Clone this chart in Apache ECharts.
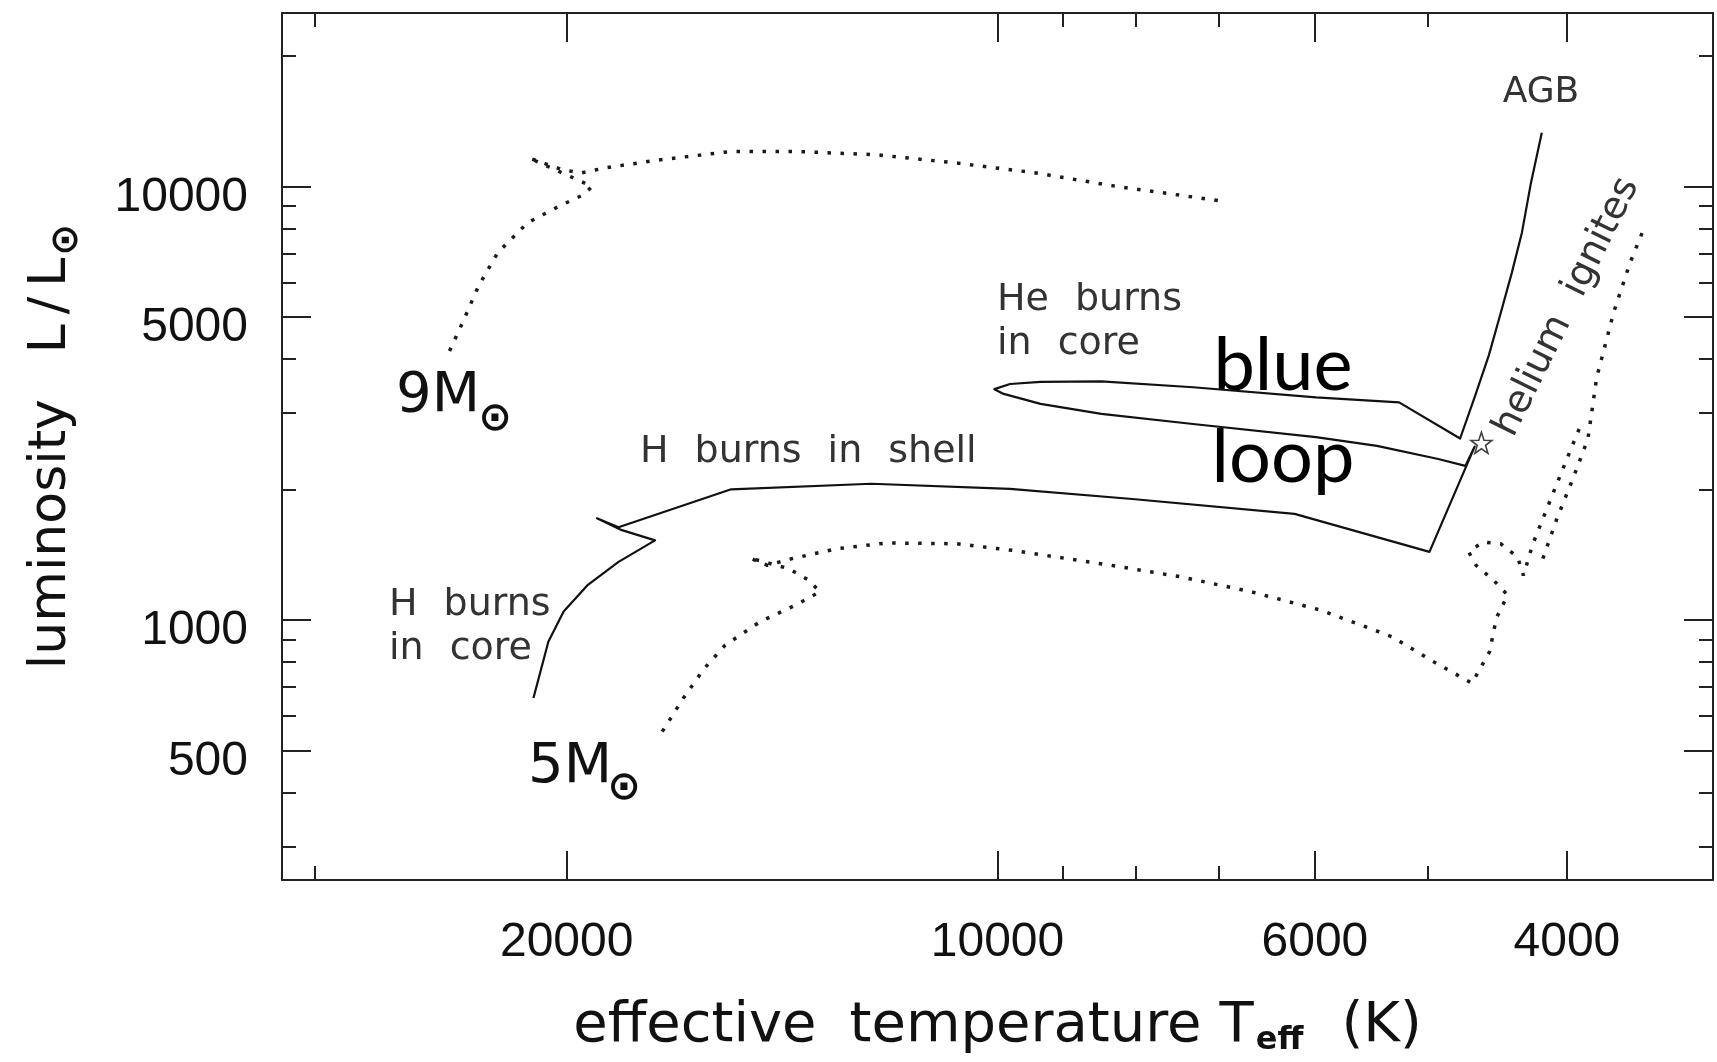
<!DOCTYPE html>
<html><head><meta charset="utf-8">
<script src="https://cdn.jsdelivr.net/npm/echarts@6/dist/echarts.min.js"></script>
<style>html,body{margin:0;padding:0;background:#fff}#c{width:1717px;height:1062px}</style>
</head><body><div id="c"></div>
<script>
// ---------- data (temperature in K, luminosity in L_sun) ----------
// 5 M_sun track (solid): main sequence, hook, Hertzsprung gap, red giant branch, blue loop, AGB
const solidTemp = [21100, 20600, 20100, 19350, 18400, 17350, 18300, 19050, 18400, 15350, 12250, 9800, 8050, 6200, 4990, 4640, 4710, 4920, 5430, 5990, 7300, 8460, 9330, 9900, 10050, 9800, 9330, 8460, 7300, 5990, 5240, 4750, 4640, 4535, 4450, 4370, 4300, 4238, 4165];
const solidLum  = [660, 890, 1045, 1200, 1360, 1525, 1610, 1715, 1635, 2000, 2060, 2005, 1900, 1755, 1435, 2510, 2265, 2350, 2520, 2640, 2830, 2985, 3150, 3320, 3405, 3500, 3540, 3550, 3440, 3260, 3175, 2620, 3265, 4080, 5096, 6333, 7830, 10200, 13300];
// 9 M_sun track (dotted)
const dot9Temp = [24150, 23650, 23050, 22350, 21300, 20250, 19450, 19200, 21250, 20150, 19550, 18800, 17350, 15350, 13850, 12150, 10700, 9400, 8260, 6950];
const dot9Lum  = [4170, 4850, 5890, 7030, 8240, 9000, 9580, 10000, 11630, 10930, 10740, 11030, 11480, 12040, 12040, 11830, 11330, 10740, 10000, 9240];
// 5 M_sun track (dotted): up to the small loop and the left strand
const dot5TempA = [17150, 16580, 16030, 15500, 14650, 13850, 13310, 13540, 14000, 14900, 14480, 13920, 12940, 11960, 10680, 9760, 8330, 7440, 6645, 5940, 5300, 4960, 4660, 4530, 4480, 4400, 4500, 4630, 4685, 4580, 4450, 4330, 4290, 4225, 4118, 4013, 3917];
const dot5LumA  = [552, 659, 772, 874, 990, 1080, 1160, 1233, 1313, 1389, 1336, 1384, 1459, 1504, 1498, 1446, 1336, 1256, 1160, 1052, 914, 801, 714, 844, 1011, 1140, 1233, 1336, 1434, 1512, 1498, 1396, 1265, 1498, 1852, 2289, 2785];
// 5 M_sun track (dotted): right strand up to the top
const dot5TempB = [4158, 4065, 3962, 3867, 3813, 3710, 3615, 3530];
const dot5LumB  = [1384, 1711, 2114, 2615, 3620, 5120, 6640, 8070];
// helium ignition marker
const heliumTemp = [4590];
const heliumLum  = [2560];
// axis ranges and ticks
const tempRange = [3162, 31623];
const lumRange  = [251, 25119];
const tempMajorTicks = [20000, 10000, 6000, 4000];
const tempMinorTicks = [30000, 9000, 8000, 7000, 5000];
const lumMajorTicks  = [10000, 5000, 1000, 500];
const lumMinorTicks  = [20000, 9000, 8000, 7000, 6000, 4000, 3000, 2000, 900, 800, 700, 600, 400, 300];

// ---------- chart ----------
const lg = v => Math.log10(v);
const pts = (T, L) => T.map((t, i) => [lg(t), lg(L[i])]);
const fmt = v => String(Math.round(Math.pow(10, v)));
const INK = '#1a1a1a';
const AX = '#222';
const tickFont = '"Liberation Sans", Arial, sans-serif';
const nameFont = '"DejaVu Sans", sans-serif';

function xAx(pos, ticks, len, showLine, withLabel) {
  const o = {
    type: 'value', position: pos, min: lg(tempRange[0]), max: lg(tempRange[1]), inverse: true,
    axisLine: { show: showLine, lineStyle: { color: AX, width: 2 } },
    axisTick: { show: true, inside: true, length: len, customValues: ticks.map(lg), lineStyle: { color: AX, width: 2 } },
    axisLabel: { show: withLabel, customValues: ticks.map(lg), formatter: fmt, fontSize: 48, fontFamily: tickFont, color: '#111', margin: 39 },
    splitLine: { show: false }
  };
  if (withLabel) {
    o.name = 'effective{g1| }temperature{g2| }T{sub|eff}{g3| }(K)';
    o.nameLocation = 'middle';
    o.nameGap = 115;
    const base = { fontSize: 56, fontFamily: nameFont, color: '#111' };
    o.nameTextStyle = Object.assign({}, base, {
      rich: {
        g1: Object.assign({}, base, { width: 33 }),
        g2: Object.assign({}, base, { width: 18 }),
        g3: Object.assign({}, base, { width: 38 }),
        sub: { fontSize: 32, fontFamily: nameFont, fontWeight: 'bold', color: '#111', padding: [30, 0, 0, 2] }
      }
    });
  }
  return o;
}
function yAx(pos, ticks, len, showLine, withLabel) {
  const o = {
    type: 'value', position: pos, min: lg(lumRange[0]), max: lg(lumRange[1]),
    axisLine: { show: showLine, lineStyle: { color: AX, width: 2 } },
    axisTick: { show: true, inside: true, length: len, customValues: ticks.map(lg), lineStyle: { color: AX, width: 2 } },
    axisLabel: { show: withLabel, customValues: ticks.map(lg), formatter: fmt, fontSize: 48, fontFamily: tickFont, color: '#111', margin: 34, verticalAlign: 'top', lineHeight: 22 },
    splitLine: { show: false }
  };
  if (withLabel) {
    o.name = 'luminosity{g| }L{sl|/}L{sun|⊙}';
    o.nameLocation = 'middle';
    o.nameRotate = 90;
    o.nameGap = 196;
    const base = { fontSize: 52, fontFamily: nameFont, color: '#111' };
    o.nameTextStyle = Object.assign({}, base, {
      rich: {
        g: Object.assign({}, base, { width: 46 }),
        sl: Object.assign({}, base, { padding: [0, 10, 0, 10] }),
        sun: { fontSize: 38, fontFamily: nameFont, fontWeight: 'bold', color: '#111', padding: [32, 0, 0, 2] }
      }
    });
  }
  return o;
}

const starPath = 'path://M0,-10L2.35,-3.24L9.51,-3.09L3.8,1.24L5.88,8.09L0,4.2L-5.88,8.09L-3.8,1.24L-9.51,-3.09L-2.35,-3.24Z';
const annFont = '"DejaVu Sans", sans-serif';
const annStyle = (text, extra) => Object.assign({
  text: text, font: '38px ' + annFont, fill: '#333', align: 'left', verticalAlign: 'middle', lineHeight: 44,
  rich: { g: { font: '38px ' + annFont, fill: '#333', width: 26, lineHeight: 44 } }
}, extra || {});
const dotted = { color: INK, width: 3.5, type: [3.5, 9.5], cap: 'butt' };

const chart = echarts.init(document.getElementById('c'), null, { renderer: 'canvas' });
chart.setOption({
  animation: false,
  backgroundColor: '#ffffff',
  grid: { left: 282, right: 4, top: 13, bottom: 180, containLabel: false },
  xAxis: [
    xAx('bottom', tempMajorTicks, 29, true, true),
    xAx('bottom', tempMinorTicks, 14, false, false),
    xAx('top', tempMajorTicks, 29, true, false),
    xAx('top', tempMinorTicks, 14, false, false)
  ],
  yAxis: [
    yAx('left', lumMajorTicks, 29, true, true),
    yAx('left', lumMinorTicks, 14, false, false),
    yAx('right', lumMajorTicks, 29, true, false),
    yAx('right', lumMinorTicks, 14, false, false)
  ],
  series: [
    { name: '9 Msun (dotted)', type: 'line', data: pts(dot9Temp, dot9Lum), showSymbol: false, symbol: 'none', lineStyle: dotted, z: 3 },
    { name: '5 Msun (dotted)', type: 'line', data: pts(dot5TempA, dot5LumA), showSymbol: false, symbol: 'none', lineStyle: dotted, z: 3 },
    { name: '5 Msun (dotted, upper)', type: 'line', data: pts(dot5TempB, dot5LumB), showSymbol: false, symbol: 'none', lineStyle: dotted, z: 3 },
    { name: '5 Msun track', type: 'line', data: pts(solidTemp, solidLum), showSymbol: false, symbol: 'none',
      lineStyle: { color: '#111', width: 2.2, join: 'round' }, z: 4 },
    { name: 'helium ignites', type: 'scatter', data: pts(heliumTemp, heliumLum), symbol: starPath, symbolSize: 21,
      itemStyle: { color: 'rgba(0,0,0,0)', borderColor: '#111', borderWidth: 1.6 }, z: 5 }
  ],
  graphic: [
    { type: 'text', x: 1541, y: 93, style: { text: 'AGB', font: '36px ' + annFont, fill: '#333', align: 'center', verticalAlign: 'middle' } },
    { type: 'text', x: 997, y: 322, style: annStyle('He{g| }burns\nin{g| }core') },
    { type: 'text', x: 389, y: 627, style: annStyle('H{g| }burns\nin{g| }core') },
    { type: 'text', x: 640, y: 452, style: annStyle('H{g| }burns{g| }in{g| }shell') },
    { type: 'text', x: 1567, y: 307, rotation: 1.113, style: annStyle('helium{g| }ignites', { align: 'center' }) },
    { type: 'text', x: 396, y: 396, style: { text: '9M', font: '56px ' + annFont, fill: '#111', align: 'left', verticalAlign: 'middle' } },
    { type: 'text', x: 495, y: 420, style: { text: '⊙', font: 'bold 40px ' + annFont, fill: '#111', align: 'center', verticalAlign: 'middle' } },
    { type: 'text', x: 528, y: 767, style: { text: '5M', font: '56px ' + annFont, fill: '#111', align: 'left', verticalAlign: 'middle' } },
    { type: 'text', x: 624, y: 789, style: { text: '⊙', font: 'bold 40px ' + annFont, fill: '#111', align: 'center', verticalAlign: 'middle' } },
    { type: 'text', x: 1283, y: 366, style: { text: 'blue', font: '74px Lato, "Noto Sans", sans-serif', fill: '#000', align: 'center', verticalAlign: 'middle' } },
    { type: 'text', x: 1283, y: 458, style: { text: 'loop', font: '74px Lato, "Noto Sans", sans-serif', fill: '#000', align: 'center', verticalAlign: 'middle' } }
  ]
});
</script>
</body></html>
